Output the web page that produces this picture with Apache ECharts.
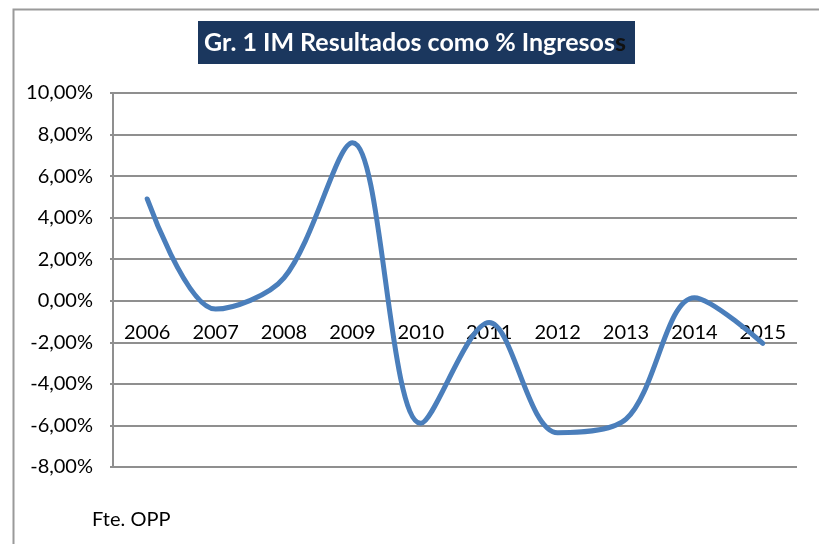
<!DOCTYPE html>
<html>
<head>
<meta charset="utf-8">
<script src="https://cdn.jsdelivr.net/npm/echarts@6/dist/echarts.min.js"></script>
<style>
  html, body { margin: 0; padding: 0; background: #fff; }
  #chart { width: 819px; height: 544px; }
</style>
</head>
<body>
<div id="chart"></div>
<script>
  // datos
  const years = ['2006', '2007', '2008', '2009', '2010', '2011', '2012', '2013', '2014', '2015']
  const resultados = [4.9, -0.4, 1.1, 7.6, -5.9, -1.05, -6.35, -5.7, 0.15, -2.05]
  const yTicks = { min: -8, max: 10, step: 2 }

  const myChart = echarts.init(document.getElementById('chart'))
  const gray = '#8f8f8f'
  const font = 'Lato, "Open Sans", sans-serif'

  const option = {
    animation: false,
    backgroundColor: '#fff',
    textStyle: { fontFamily: font },
    grid: { left: 113, right: 22, top: 93, bottom: 77 },
    xAxis: {
      type: 'category',
      data: years,
      boundaryGap: true,
      position: 'bottom',
      // el eje de categorias se dibuja sobre la linea de 0%
      offset: -166,
      axisLine: { onZero: false, lineStyle: { color: gray, width: 2 } },
      axisTick: { show: false },
      axisLabel: { color: '#000', fontSize: 20, margin: 22, fontFamily: font }
    },
    yAxis: {
      type: 'value',
      min: yTicks.min,
      max: yTicks.max,
      interval: yTicks.step,
      axisLine: { show: true, lineStyle: { color: gray, width: 2 } },
      axisTick: { show: true, length: 3, lineStyle: { color: gray, width: 2 } },
      splitLine: { lineStyle: { color: gray, width: 2 } },
      axisLabel: {
        color: '#000',
        fontSize: 20,
        margin: 20,
        fontFamily: font,
        formatter: v => v.toFixed(2).replace('.', ',') + '%'
      }
    },
    series: [
      {
        name: 'IM Resultados',
        type: 'line',
        data: resultados,
        smooth: 0.33,
        symbol: 'none',
        lineStyle: { color: '#4A7EBB', width: 5, cap: 'round' }
      }
    ],
    graphic: [
      {
        type: 'rect',
        left: 11,
        top: 7,
        shape: { width: 830, height: 560 },
        style: { fill: 'none', stroke: '#9a9a9a', lineWidth: 2 },
        silent: true
      },
      {
        type: 'rect',
        left: 198,
        top: 21,
        shape: { width: 437, height: 43 },
        style: { fill: '#1B375E' }
      },
      {
        type: 'text',
        x: 415,
        y: 43,
        style: {
          text: '{w|Gr. 1 IM Resultados como % Ingresos}{d|s}',
          align: 'center',
          verticalAlign: 'middle',
          rich: {
            w: { fill: '#fff', fontSize: 25, fontWeight: 'bold', fontFamily: font },
            d: { fill: '#111', fontSize: 25, fontWeight: 'bold', fontFamily: font }
          }
        }
      },
      {
        type: 'text',
        x: 92,
        y: 520,
        style: { text: 'Fte. OPP', fill: '#000', fontSize: 20, fontFamily: font, verticalAlign: 'middle' }
      }
    ]
  }
  myChart.setOption(option)
</script>
</body>
</html>
